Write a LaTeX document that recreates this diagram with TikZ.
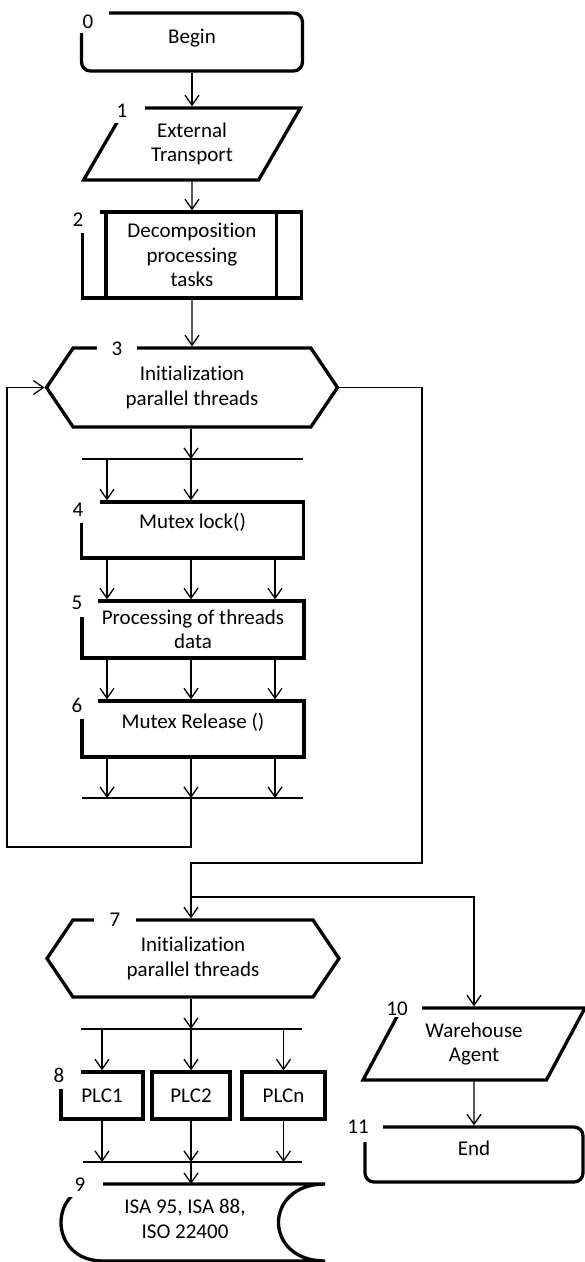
\documentclass[tikz,border=0pt]{standalone}
\usepackage{fontspec}
\setmainfont{Carlito}[Ligatures={NoCommon}]
\usepackage{tikz}
\usetikzlibrary{arrows.meta}
\usetikzlibrary{shapes.geometric}
\usetikzlibrary{shapes.symbols}

\begin{document}
\begin{tikzpicture}[x=1pt, y=-1pt, font=\fontsize{21}{24.5}\selectfont,
                    blk/.style={draw, line width=3.3pt, align=center, inner sep=2pt},
                    term/.style={blk, rounded corners=9pt},
                    io/.style={blk, trapezium, trapezium left angle=60, trapezium right angle=120, trapezium stretches=true},
                    prep/.style={blk, signal, signal to=west and east, signal pointer angle=112},
                    lift/.style={text height=14pt, text depth=#1},
                    num/.style={fill=white, inner sep=0pt},
                    flow/.style={line width=1.3pt, -{Straight Barb[length=10pt, width=14pt]}},
                    bar/.style={line width=1.3pt}]
                        \useasboundingbox (0,0) rectangle (585,1262);

                        \coordinate (cl) at (107,0);
                        \coordinate (cm) at (191,0);
                        \coordinate (cr) at (275,0);

                        \node[term, lift=10.5pt, minimum width=221, minimum height=58] (begin) at (192,42) {Begin};
                        \node[io, minimum width=217, minimum height=72] (ext) at (192,144) {External\\Transport};
                        \node[blk, minimum width=219, minimum height=86] (dec) at (192,255) {Decomposition\\processing\\tasks};
                        \draw [line width=3.3pt] ([xshift=25pt]dec.north west) -- ([xshift=25pt]dec.south west);
                        \draw [line width=3.3pt] ([xshift=-27pt]dec.north east) -- ([xshift=-27pt]dec.south east);
                        \node[prep, minimum width=291, minimum height=79] (init) at (192,387.5) {Initialization\\parallel threads};

                        \draw[flow] (begin) -- (ext);
                        \draw[flow] (ext) -- (dec);
                        \draw[flow] (dec) -- (init);

                        \coordinate (b1a) at (82,459);
                        \coordinate (b1b) at (303,459);
                        \coordinate (b2a) at (82,798);
                        \coordinate (b2b) at (303,798);

                        \node[blk, lift=16.5pt, minimum width=222, minimum height=56] (lock) at (192.5,530) {Mutex lock()};
                        \node[blk, minimum width=222, minimum height=57] (proc) at (193,629.5) {Processing of threads\\data};
                        \node[blk, lift=14.5pt, minimum width=222, minimum height=56] (rel) at (193,729) {Mutex Release ()};

                        \draw[flow] (cm |- init.south) -- (cm |- b1a);
                        \draw[bar] (b1a) -- (b1b);
                        \foreach \c in {cl,cm} \draw[flow] (\c |- b1a) -- (\c |- lock.north);
                        \foreach \c in {cl,cm,cr} \draw[flow] (\c |- lock.south) -- (\c |- proc.north);
                        \foreach \c in {cl,cm,cr} \draw[flow] (\c |- proc.south) -- (\c |- rel.north);
                        \foreach \c in {cl,cm,cr} \draw[flow] (\c |- rel.south) -- (\c |- b2a);
                        \draw[bar] (b2a) -- (b2b);

                        \node[prep, minimum width=292, minimum height=77] (init2) at (193,958.5) {Initialization\\parallel threads};
                        \node[io, minimum width=222, minimum height=72] (agent) at (474,1044) {Warehouse\\Agent};
                        \node[term, lift=12.5pt, minimum width=218, minimum height=55] (fin) at (474,1154.5) {End};

                        \coordinate (k1) at (7,847);
                        \coordinate (k2) at (422,863);
                        \coordinate (k3) at (0,897);
                        \draw[flow] (cm |- b2a) |- (k1) |- (init.west);
                        \draw[flow] (init.east) -| (k2) -| (cm |- init2.north);
                        \draw[flow] (cm |- k3) -| (agent.north);
                        \draw[flow] (agent) -- (fin);

                        \coordinate (b3a) at (81,1029);
                        \coordinate (b3b) at (302,1029);
                        \coordinate (b4a) at (83,1162);
                        \coordinate (b4b) at (302,1162);
                        \coordinate (isatop) at (191,1184);

                        \node[blk, minimum width=82, minimum height=47] (plc1) at (102,1095.5) {PLC1};
                        \node[blk, minimum width=78, minimum height=47] (plc2) at (191,1095.5) {PLC2};
                        \node[blk, minimum width=83, minimum height=47] (plcn) at (283.5,1095.5) {PLCn};

                        \draw[flow] (cm |- init2.south) -- (cm |- b3a);
                        \draw[bar] (b3a) -- (b3b);
                        \foreach \p in {plc1,plc2,plcn} \draw[flow] (\p.north |- b3a) -- (\p.north);
                        \foreach \p in {plc1,plc2,plcn} \draw[flow] (\p.south) -- (\p.south |- b4a);
                        \draw[bar] (b4a) -- (b4b);
                        \draw[flow] (cm |- b4a) -- (isatop);

                        \draw [line width=3.3pt] (103,1184) -- (325,1184) .. controls (263,1184) and (263,1261) .. (325,1261)
                              -- (103,1261) .. controls (47,1261) and (47,1184) .. cycle;
                        \node[align=center] (isa) at (185,1219) {ISA 95, ISA 88,\\ISO 22400};

                        \node[num, minimum width=42, minimum height=22] (l0) at (88,22) {0};
                        \node[num, minimum width=46, minimum height=24] (l1) at (122,111) {1};
                        \node[num, minimum width=44, minimum height=26] (l2) at (78,220) {2};
                        \node[num, minimum width=40, minimum height=22] (l3) at (117,349) {3};
                        \node[num, minimum width=44, minimum height=26] (l4) at (78,510) {4};
                        \node[num, minimum width=42, minimum height=28] (l5) at (77,603) {5};
                        \node[num, minimum width=42, minimum height=28] (l6) at (77,705) {6};
                        \node[num, minimum width=42, minimum height=22] (l7) at (115,920) {7};
                        \node[num, minimum width=44, minimum height=28] (l8) at (59,1075) {8};
                        \node[num, minimum width=46, minimum height=24] (l9) at (80,1185) {9};
                        \node[num, minimum width=50, minimum height=16] (l10) at (397,1009) {10};
                        \node[num, minimum width=50, minimum height=30] (l11) at (358,1127) {11};
                    \end{tikzpicture}
\end{document}
